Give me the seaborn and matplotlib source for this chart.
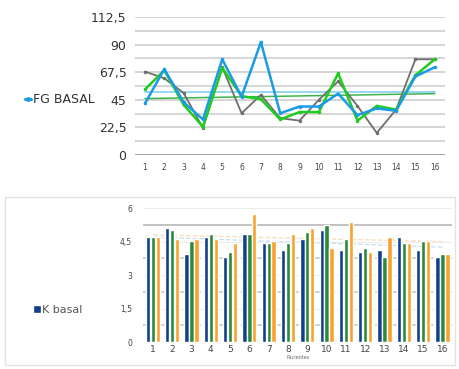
import numpy as np
import pandas as pd
import matplotlib.pyplot as plt
import seaborn as sns
from matplotlib.lines import Line2D
from matplotlib.patches import Rectangle

# data
patients = list(range(1, 17))
fg_blue = [42, 70, 43, 29, 78, 47.5, 92, 34, 39.5, 39.5, 50, 32.5, 38, 36, 64, 71.5]
fg_green = [53.5, 69, 41, 23, 71, 48, 45.5, 29, 35, 35, 66.5, 28, 40, 37, 65, 78]
fg_gray = [68, 62.5, 50.5, 22, 71.5, 34, 49, 30, 28, 45, 60, 40, 18, 37, 78, 78]
fg_blue_trend = [51, 51]
fg_green_trend = [46, 50]
fg_yticks = [0, 22.5, 45, 67.5, 90, 112.5]
fg_ylabels = ['0', '22,5', '45', '67,5', '90', '112,5']

k_blue = [4.72, 5.13, 3.93, 4.72, 3.82, 4.83, 4.42, 4.12, 4.62, 5.02, 4.12, 4.02, 4.12, 4.72, 4.12, 3.82]
k_green = [4.72, 5.02, 4.53, 4.83, 4.02, 4.83, 4.42, 4.42, 4.92, 5.25, 4.62, 4.23, 3.8, 4.42, 4.53, 3.93]
k_orange = [4.72, 4.6, 4.6, 4.6, 4.42, 5.73, 4.53, 4.83, 5.13, 4.23, 5.4, 4.02, 4.72, 4.42, 4.53, 3.93]
k_blue_trend = [4.7, 4.25]
k_orange_trend = [4.8, 4.5]
k_yticks = [0, 1.5, 3, 4.5, 6]
k_ylabels = ['0', '1,5', '3', '4,5', '6']


def main():
    sns.set_style('white')
    plt.rcParams['font.family'] = ['DejaVu Sans']

    fig = plt.figure(figsize=(4.59, 3.69), dpi=100)

    # ---------- top: FG lines ----------
    ax1 = fig.add_axes([0.294, 0.58, 0.675, 0.374])
    df_fg = pd.DataFrame({
        'paciente': patients * 3,
        'valor': fg_gray + fg_green + fg_blue,
        'serie': ['gray'] * 16 + ['green'] * 16 + ['FG BASAL'] * 16,
    })
    pal = {'gray': '#6e6e6e', 'green': '#1fcc1f', 'FG BASAL': '#1a9be3'}
    lw = {'gray': 1.3, 'green': 1.8, 'FG BASAL': 1.8}
    for name in ['gray', 'green', 'FG BASAL']:
        sub = df_fg[df_fg['serie'] == name]
        sns.lineplot(data=sub, x='paciente', y='valor', color=pal[name],
                     linewidth=lw[name], marker='o', markersize=2.5,
                     markeredgewidth=0, ax=ax1, legend=False)
    ax1.plot([1, 16], fg_blue_trend, color='#8fd3ef', linewidth=1.3, zorder=1)
    ax1.plot([1, 16], fg_green_trend, color='#3cb44b', linewidth=1.1, zorder=1)

    ax1.set_xlim(0.48, 16.52)
    ax1.set_ylim(0, 112.5)
    ax1.set_xticks(patients)
    ax1.set_xticklabels([str(p) for p in patients], fontsize=5.5, color='#444444')
    ax1.set_yticks(fg_yticks)
    ax1.set_yticklabels(fg_ylabels, fontsize=9, color='#333333')
    for y in np.arange(11.25, 113, 11.25):
        ax1.axhline(y, color='#d2d2d2', linewidth=1.3, zorder=0)
    ax1.axhline(0, color='#a0a0a0', linewidth=2, zorder=0)
    ax1.tick_params(length=0, pad=6)
    ax1.set_xlabel('')
    ax1.set_ylabel('')
    sns.despine(ax=ax1, left=True, bottom=True)

    handle = Line2D([], [], color='#1a9be3', linewidth=2.2, marker='o', markersize=2.5)
    fig.legend([handle], ['FG BASAL'], loc='center left', bbox_to_anchor=(0.03, 0.73),
               frameon=False, handlelength=0.5, handletextpad=0.1,
               prop={'size': 9}, labelcolor='#333333')

    # ---------- bottom: K bars ----------
    fig.add_artist(Rectangle((5 / 459, 1 - 365 / 369), 450 / 459, 168 / 369,
                             transform=fig.transFigure, facecolor='none',
                             edgecolor='#e2e2e2', linewidth=1))
    ax2 = fig.add_axes([0.312, 0.073, 0.673, 0.363])
    df_k = pd.DataFrame({
        'paciente': [str(p) for p in patients] * 3,
        'valor': k_blue + k_green + k_orange,
        'serie': ['K basal'] * 16 + ['k2'] * 16 + ['k3'] * 16,
    })
    sns.barplot(data=df_k, x='paciente', y='valor', hue='serie',
                palette=['#123e8c', '#2a8a3c', '#f7a22e'], width=0.76, gap=0.12,
                saturation=1, legend=False, ax=ax2, zorder=3)
    ax2.plot([0, 15], k_blue_trend, color='#c3e1f3', linewidth=0.9, linestyle='--', zorder=2)
    ax2.plot([0, 15], k_orange_trend, color='#f9dcb9', linewidth=0.9, linestyle='--', zorder=2)

    ax2.set_ylim(0, 6)
    ax2.set_xlim(-0.5, 15.5)
    ax2.set_yticks(k_yticks)
    ax2.set_yticklabels(k_ylabels, fontsize=5.5, color='#444444')
    ax2.tick_params(axis='x', labelsize=6.5, labelcolor='#444444', length=0, pad=2)
    ax2.tick_params(axis='y', length=0, pad=8)
    for y in k_yticks[1:]:
        ax2.axhline(y, color='#ececec', linewidth=0.8, zorder=0)
    for y in [0.75, 2.25, 3.75]:
        ax2.axhline(y, color='#c4c4c4', linewidth=1.1, linestyle=(0, (6, 2)), zorder=0)
    ax2.axhline(5.25, color='#bdbdbd', linewidth=1.3, zorder=0)
    ax2.axhline(0, color='#d8d8d8', linewidth=0.8, zorder=1)
    ax2.set_ylabel('')
    ax2.set_xlabel('Pacientes', fontsize=3.5, color='#666666', labelpad=1)
    sns.despine(ax=ax2, left=True, bottom=True)

    khandle = Rectangle((0, 0), 1, 1, facecolor='#123e8c')
    fig.legend([khandle], ['K basal'], loc='center left', bbox_to_anchor=(0.05, 0.16),
               frameon=False, handlelength=0.7, handleheight=0.7, handletextpad=0.1,
               prop={'size': 8}, labelcolor='#555555')

    fig.savefig('out.png', dpi=100)


if __name__ == "__main__":
    main()
